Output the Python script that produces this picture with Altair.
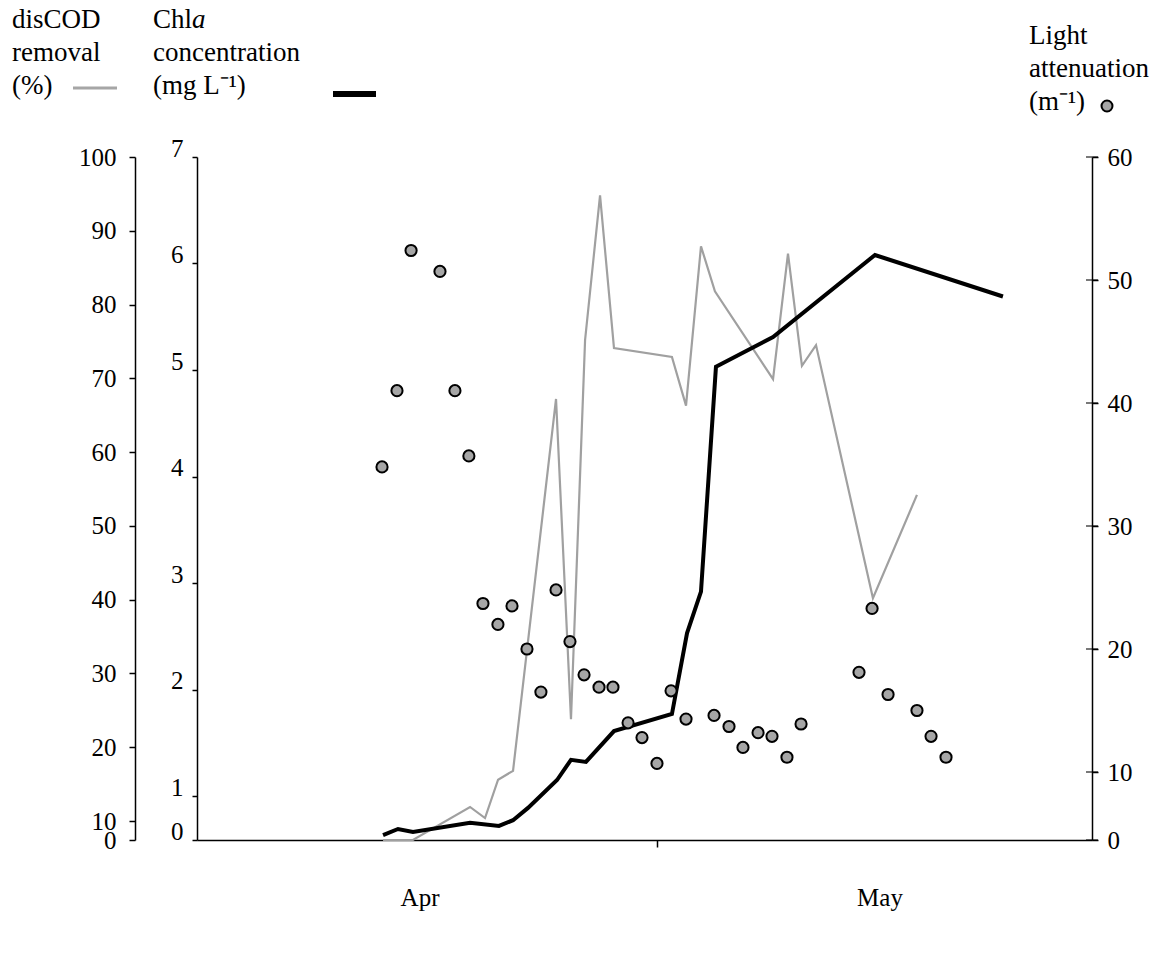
import altair as alt
import pandas as pd

# ---------------- data (x = days from the left end of the time axis) ----------------
cod_day = [12.68, 14.72, 18.61, 19.63, 20.52, 21.54, 24.47, 25.49, 26.45, 27.47, 28.42,
           32.37, 33.33, 34.35, 35.30, 39.26, 40.28, 41.23, 42.19, 46.07, 49.07]
cod_val = [0, 0, 11.9, 10.4, 15.6, 16.8, 67.2, 23.8, 75.2, 94.8, 74.1,
           72.9, 66.3, 87.9, 81.8, 69.9, 86.9, 71.7, 74.5, 40.2, 54.2]

chla_day = [12.68, 13.70, 14.72, 18.61, 20.58, 21.54, 22.56, 24.54, 25.49, 26.51, 28.42,
            32.37, 33.40, 34.35, 35.37, 39.26, 46.21, 54.93]
chla_val = [0.11, 0.25, 0.18, 0.39, 0.32, 0.45, 0.73, 1.15, 1.34, 1.32, 1.61,
            1.77, 2.53, 2.92, 5.03, 5.31, 6.08, 5.69]

light_day = [12.61, 13.63, 14.59, 16.56, 17.58, 18.53, 19.49, 20.51, 21.47, 22.49, 23.44,
             24.47, 25.42, 26.38, 27.40, 28.35, 29.38, 30.33, 31.35, 32.31, 33.33, 35.24,
             36.26, 37.21, 38.24, 39.19, 40.21, 41.17, 45.12, 46.01, 47.10, 49.07, 50.03, 51.05]
light_val = [34.8, 41.0, 52.4, 50.7, 41.0, 35.7, 23.7, 22.0, 23.5, 20.0, 16.5,
             24.8, 20.6, 17.9, 16.9, 16.9, 14.0, 12.8, 10.7, 16.6, 14.3, 14.6,
             13.7, 12.0, 13.2, 12.9, 11.2, 13.9, 18.1, 23.3, 16.3, 15.0, 12.9, 11.2]

month_labels = ["Apr", "May"]
month_mid = [15.2, 46.55]
month_tick = [31.35]

cod_ticks = [0, 10, 20, 30, 40, 50, 60, 70, 80, 90, 100]
chla_ticks = [0, 1, 2, 3, 4, 5, 6, 7]
light_ticks = [0, 10, 20, 30, 40, 50, 60]

# ---------------- layout ----------------
W, H = 895, 683
FONT = "Liberation Serif"
GRAY_LINE = "#a0a0a0"
DOT_FILL = "#a6a6a6"
LEG = 27

cod_df = pd.DataFrame({"day": cod_day, "v": cod_val})
chla_df = pd.DataFrame({"day": chla_day, "v": chla_val})
light_df = pd.DataFrame({"day": light_day, "v": light_val})
month_df = pd.DataFrame({"day": month_mid, "m": month_labels})
light_tick_df = pd.DataFrame({"v": light_ticks})

x_scale = alt.Scale(domain=[0, 61], nice=False, zero=False)
x_axis = alt.Axis(orient="bottom", values=month_tick, labels=False, ticks=True, tickSize=7,
                  tickWidth=1.5, tickColor="black", domainColor="black", domainWidth=1.5,
                  grid=False, title=None)
X = alt.X("day:Q", scale=x_scale, axis=x_axis)

common_axis = dict(grid=False, title=None, labelFont=FONT, labelFontSize=25, labelColor="black",
                   domainColor="black", domainWidth=1.5, tickColor="black", tickWidth=1.5,
                   labelOverlap=False)

cod_scale = alt.Scale(domain=[0, 10, 100], range=[H, 664, 0], nice=False)
chla_scale = alt.Scale(domain=[0, 1, 7], range=[H, 639, 0], nice=False)
light_scale = alt.Scale(domain=[0, 10, 60], range=[H, 615, 0], nice=False)

one = pd.DataFrame({"k": [0]})

cod_line = alt.Chart(cod_df).mark_line(color=GRAY_LINE, strokeWidth=2.2).encode(
    x=X,
    y=alt.Y("v:Q", scale=cod_scale,
            axis=alt.Axis(orient="left", offset=62, values=cod_ticks, tickSize=6, labelPadding=13,
                          **common_axis)),
)

chla_line = alt.Chart(chla_df).mark_line(color="black", strokeWidth=4).encode(
    x=X,
    y=alt.Y("v:Q", scale=chla_scale,
            axis=alt.Axis(orient="left", offset=0, values=chla_ticks, tickSize=5, labelPadding=9,
                          labelOffset=-9, **common_axis)),
)

light_pts = alt.Chart(light_df).mark_circle(color=DOT_FILL, stroke="black", strokeWidth=2,
                                            size=125, opacity=1).encode(
    x=X,
    y=alt.Y("v:Q", scale=light_scale,
            axis=alt.Axis(orient="right", values=light_ticks, tickSize=6, labelPadding=9,
                          **common_axis)),
)

# inner half of the crossing ticks on the right axis
light_inner = alt.Chart(light_tick_df).mark_tick(color="black", thickness=1.5, size=12).encode(
    x=alt.value(W),
    y=alt.Y("v:Q", scale=light_scale, axis=None),
)

months = alt.Chart(month_df).mark_text(font=FONT, fontSize=25, color="black", baseline="middle",
                                       align="center").encode(
    x=X, y=alt.value(741), text="m:N")


def txt(s, x, y, size=LEG, style="normal", align="left"):
    return alt.Chart(pd.DataFrame({"t": [s]})).mark_text(
        font=FONT, fontSize=size, fontStyle=style, color="black", align=align,
        baseline="alphabetic").encode(x=alt.value(x), y=alt.value(y), text="t:N")


legend_layers = [
    txt("disCOD", -185, -129), txt("removal", -185, -96), txt("(%)", -185, -63),
    alt.Chart(one).mark_rule(color=DOT_FILL, strokeWidth=3).encode(
        x=alt.value(-124), x2=alt.value(-80), y=alt.value(-69)),
    txt("Chl", -44, -129), txt("a", -5, -129, style="italic"),
    txt("concentration", -44, -96), txt("(mg L\u207b\u00b9)", -44, -63),
    alt.Chart(one).mark_rule(color="black", strokeWidth=6).encode(
        x=alt.value(136), x2=alt.value(179), y=alt.value(-63)),
    txt("Light", 832, -113), txt("attenuation", 832, -80), txt("(m\u207b\u00b9)", 832, -47),
    alt.Chart(one).mark_circle(color=DOT_FILL, stroke="black", strokeWidth=2, size=120,
                               opacity=1).encode(x=alt.value(910), y=alt.value(-51)),
]

chart = alt.layer(cod_line, chla_line, light_pts, light_inner, months,
                  *legend_layers).resolve_scale(
    y="independent"
).properties(
    width=W, height=H,
    autosize=alt.AutoSizeParams(type="none"),
    padding={"left": 197, "top": 157, "right": 71, "bottom": 124},
).configure(
    font=FONT,
    view=alt.ViewConfig(stroke="transparent", strokeWidth=0),
    style={"cell": {"stroke": "transparent", "strokeWidth": 0}},
    axis=alt.AxisConfig(grid=False, domainColor="black", tickColor="black"),
    axisTop=alt.AxisConfig(domain=False, ticks=False, labels=False, grid=False),
)

chart.save("out.html", embed_options={"renderer": "svg", "actions": False})
